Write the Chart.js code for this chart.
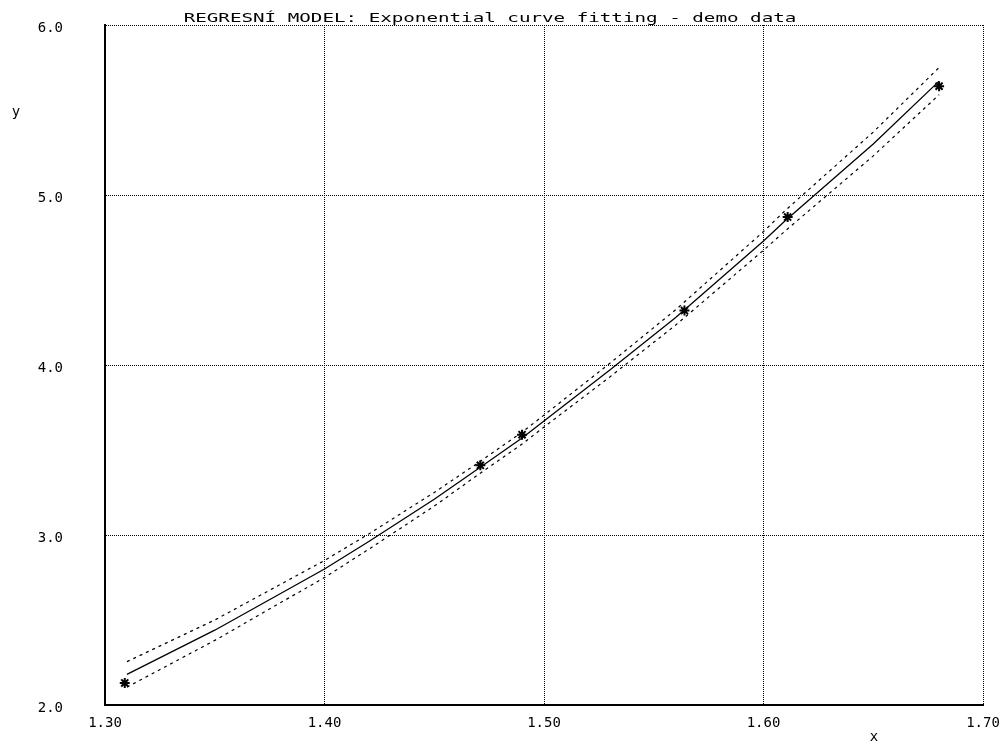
<!DOCTYPE html>
<html>
<head>
<meta charset="utf-8">
<script src="https://cdn.jsdelivr.net/npm/chart.js@4.4.1/dist/chart.umd.min.js"></script>
<style>
  html, body { margin: 0; padding: 0; background: #fff; }
  canvas { display: block; }
</style>
</head>
<body>
<canvas id="c" width="1004" height="746"></canvas>
<script>
// Observed data points
const obsX = [1.309, 1.471, 1.490, 1.564, 1.611, 1.680];
const obsY = [2.13, 3.41, 3.59, 4.32, 4.87, 5.64];

// Fitted exponential curve and its confidence band
const fitX   = [1.310, 1.350, 1.400, 1.420, 1.450, 1.470, 1.490, 1.500, 1.530, 1.560, 1.600, 1.610, 1.650, 1.680];
const fitY   = [2.18, 2.44, 2.80, 2.96, 3.21, 3.39, 3.57, 3.67, 3.97, 4.28, 4.73, 4.85, 5.30, 5.67];
const upperY = [2.255, 2.50, 2.85, 3.005, 3.25, 3.425, 3.605, 3.705, 4.01, 4.325, 4.785, 4.91, 5.37, 5.75];
const lowerY = [2.105, 2.38, 2.75, 2.915, 3.17, 3.355, 3.535, 3.635, 3.93, 4.235, 4.675, 4.79, 5.23, 5.59];

// Axis ticks and captions
const xTicks = [1.30, 1.40, 1.50, 1.60, 1.70];
const yTicks = [2.0, 3.0, 4.0, 5.0, 6.0];
const chartTitle = 'REGRESNÍ MODEL: Exponential curve fitting - demo data';
const xLabel = 'x';
const yLabel = 'y';

const toPoints = (xs, ys) => xs.map((x, i) => ({ x: x, y: ys[i] }));
const MONO = '"DejaVu Sans Mono", "Liberation Mono", monospace';

// Title over the frame and the two axis letters
const captions = {
  id: 'captions',
  afterDraw(chart) {
    const ctx = chart.ctx;
    ctx.save();
    ctx.fillStyle = '#000';
    ctx.textAlign = 'center';
    ctx.textBaseline = 'alphabetic';
    ctx.save();
    ctx.font = '12px ' + MONO;
    ctx.translate(490, 22);
    ctx.scale(1.6, 1);
    ctx.fillText(chartTitle, 0, 0);
    ctx.restore();
    ctx.font = '14px ' + MONO;
    ctx.textBaseline = 'middle';
    ctx.fillText(yLabel, 16, 112);
    ctx.fillText(xLabel, 874, 737);
    ctx.restore();
  }
};

const gridOpts = {
  color: '#000',
  lineWidth: 1,
  drawTicks: false
};
const borderOpts = { display: true, color: '#000', width: 2, dash: [1, 1] };

const bandStyle = {
  showLine: true,
  borderColor: '#000',
  borderWidth: 1.2,
  borderDash: [3, 4],
  pointRadius: 0,
  tension: 0
};

new Chart(document.getElementById('c'), {
  type: 'scatter',
  data: {
    datasets: [
      Object.assign({ label: 'upper', data: toPoints(fitX, upperY) }, bandStyle),
      Object.assign({ label: 'lower', data: toPoints(fitX, lowerY) }, bandStyle),
      {
        label: 'fit',
        data: toPoints(fitX, fitY),
        showLine: true,
        borderColor: '#000',
        borderWidth: 1.3,
        pointRadius: 0,
        tension: 0
      },
      {
        label: 'data',
        data: toPoints(obsX, obsY),
        showLine: false,
        pointStyle: 'star',
        pointRadius: 5,
        borderWidth: 2,
        borderColor: '#000',
        backgroundColor: '#000'
      }
    ]
  },
  options: {
    responsive: false,
    animation: false,
    events: [],
    layout: { padding: { top: 25, right: 21, left: 0, bottom: 0 } },
    plugins: {
      legend: { display: false },
      title: { display: false },
      tooltip: { enabled: false }
    },
    scales: {
      x: {
        type: 'linear',
        min: 1.30,
        max: 1.70,
        afterBuildTicks: (s) => { s.ticks = xTicks.map(v => ({ value: v })); },
        afterFit: (s) => { s.height = 41; s.paddingLeft = 0; s.paddingRight = 0; },
        grid: gridOpts,
        border: borderOpts,
        ticks: {
          color: '#000',
          font: { family: MONO, size: 14 },
          padding: 10,
          maxRotation: 0,
          callback: (v) => Number(v).toFixed(2)
        }
      },
      y: {
        type: 'linear',
        min: 2.0,
        max: 6.0,
        afterBuildTicks: (s) => { s.ticks = yTicks.map(v => ({ value: v })); },
        afterFit: (s) => { s.width = 105; s.paddingTop = 0; s.paddingBottom = 0; },
        grid: gridOpts,
        border: borderOpts,
        ticks: {
          color: '#000',
          font: { family: MONO, size: 14 },
          padding: 42,
          labelOffset: 3,
          callback: (v) => Number(v).toFixed(1)
        }
      }
    }
  },
  plugins: [captions]
});
</script>
</body>
</html>
